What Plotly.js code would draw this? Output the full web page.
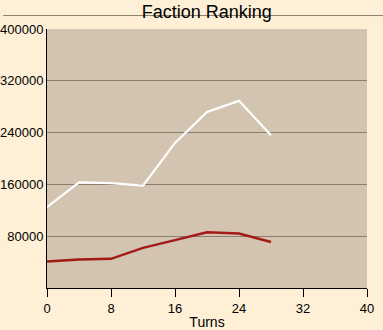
<!DOCTYPE html>
<html>
<head>
<meta charset="utf-8">
<script src="https://cdn.plot.ly/plotly-3.0.1.min.js"></script>
<style>html,body{margin:0;padding:0;background:#FDF0D6;}#chart{width:383px;height:330px;}</style>
</head>
<body>
<div id="chart"></div>
<script>
const turns = [0, 4, 8, 12, 16, 20, 24, 28];
const whiteSeries = [125000, 163000, 162000, 158000, 224000, 272000, 289000, 236000];
const redSeries = [41000, 44000, 45000, 62000, 74000, 86000, 84000, 71000];
const xTicks = [0, 8, 16, 24, 32, 40];
const yTicks = [80000, 160000, 240000, 320000, 400000];

const data = [
  {x: turns, y: whiteSeries, mode: 'lines', line: {color: '#FFFFFF', width: 2.2}, hoverinfo: 'skip'},
  {x: turns, y: redSeries, mode: 'lines', line: {color: '#A31A16', width: 2.5}, hoverinfo: 'skip'}
];

const layout = {
  width: 383, height: 330,
  margin: {l: 47, r: 16, t: 29, b: 42},
  paper_bgcolor: '#FDF0D6',
  plot_bgcolor: '#D2C4B0',
  showlegend: false,
  font: {family: 'Liberation Sans, Arial, sans-serif', color: '#000000', size: 13},
  title: {text: 'Faction Ranking', x: 0.54, xanchor: 'center', y: 0.985, yanchor: 'top',
          font: {size: 18, family: 'Liberation Sans, Arial, sans-serif', color: '#000'}},
  xaxis: {
    range: [0, 40], tickvals: xTicks, ticktext: xTicks.map(String),
    showgrid: false, zeroline: false, showline: true, linecolor: '#000', linewidth: 1,
    ticks: 'outside', ticklen: 8, tickcolor: '#000', tickwidth: 1,
    tickfont: {size: 13},
    title: {text: 'Turns', font: {size: 14}, standoff: 4}
  },
  yaxis: {
    range: [0, 400000], tickvals: yTicks, ticktext: yTicks.map(String),
    showgrid: true, gridcolor: '#8B7E6E', gridwidth: 1,
    zeroline: false, showline: true, linecolor: '#000', linewidth: 1,
    ticks: '', tickfont: {size: 13}
  },
  shapes: [
    {type: 'line', xref: 'paper', yref: 'paper', x0: -0.137, x1: 1.06, y0: 1.052, y1: 1.052,
     line: {color: '#8A7F70', width: 1}}
  ]
};

Plotly.newPlot('chart', data, layout, {displayModeBar: false, staticPlot: true});
</script>
</body>
</html>
